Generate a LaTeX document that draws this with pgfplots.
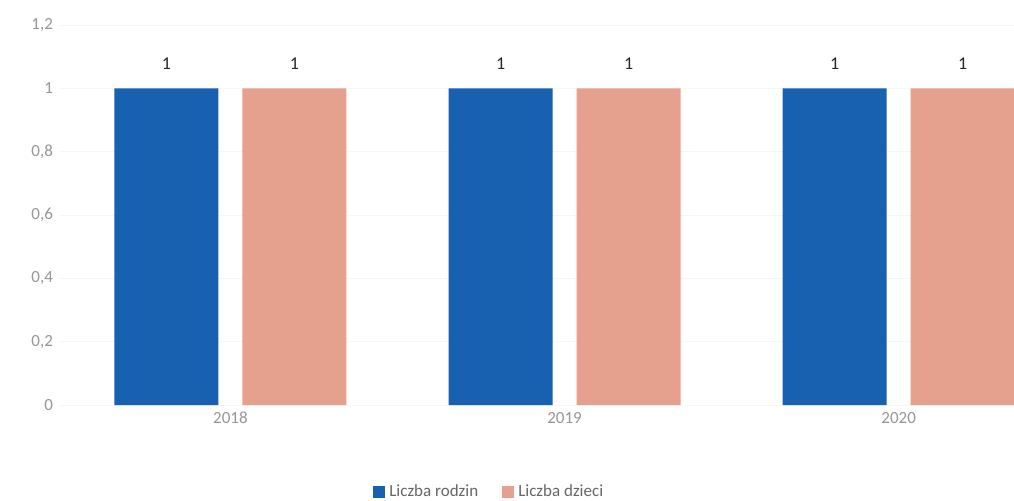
\documentclass[border=0pt]{standalone}
\usepackage{fontspec}
\setmainfont{Carlito}
\usepackage{pgfplots}
\pgfplotsset{compat=1.18}
\definecolor{rodzin}{RGB}{24,96,176}
\definecolor{dzieci}{RGB}{230,160,142}
\definecolor{ticktxt}{RGB}{150,150,150}
\begin{document}
\begin{tikzpicture}
\useasboundingbox (0,0) rectangle (507pt,250pt);
\begin{axis}[
    at={(30pt,47.5pt)}, anchor=south west,
    scale only axis,
    width=477pt, height=190pt,
    ymin=0, ymax=1.2,
    xmin=-0.51, xmax=2.345,
    ytick={0,0.2,...,1.2},
    xtick={0,1,2},
    xticklabels={2018,2019,2020},
    axis line style={draw=none},
    major tick length=0pt,
    ymajorgrids=true,
    grid style={gray!7},
    /pgf/number format/.cd, use comma, fixed,
    /pgfplots/.cd,
    /pgf/number format/assume math mode=true,
    ticklabel style={font=\fontsize{8.5}{10}\selectfont, text=ticktxt},
    ybar, bar width=52pt,
    nodes near coords,
    nodes near coords style={font=\fontsize{9}{10}\selectfont, text=black!85, yshift=6pt},
    legend style={at={(0.451,-0.228)}, anchor=center, draw=none,
        legend columns=2, font=\fontsize{8.5}{10}\selectfont, text=black!60,
        /tikz/every even column/.append style={column sep=10pt}},
    legend image code/.code={\fill[#1] (0pt,-3pt) rectangle (6pt,3pt);},
]
\addplot[fill=rodzin, draw=none, bar shift=-32pt] coordinates {(0,1) (1,1) (2,1)};
\addplot[fill=dzieci, draw=none, bar shift=32pt] coordinates {(0,1) (1,1) (2,1)};
\legend{Liczba rodzin, Liczba dzieci}
\end{axis}
\end{tikzpicture}
\end{document}
